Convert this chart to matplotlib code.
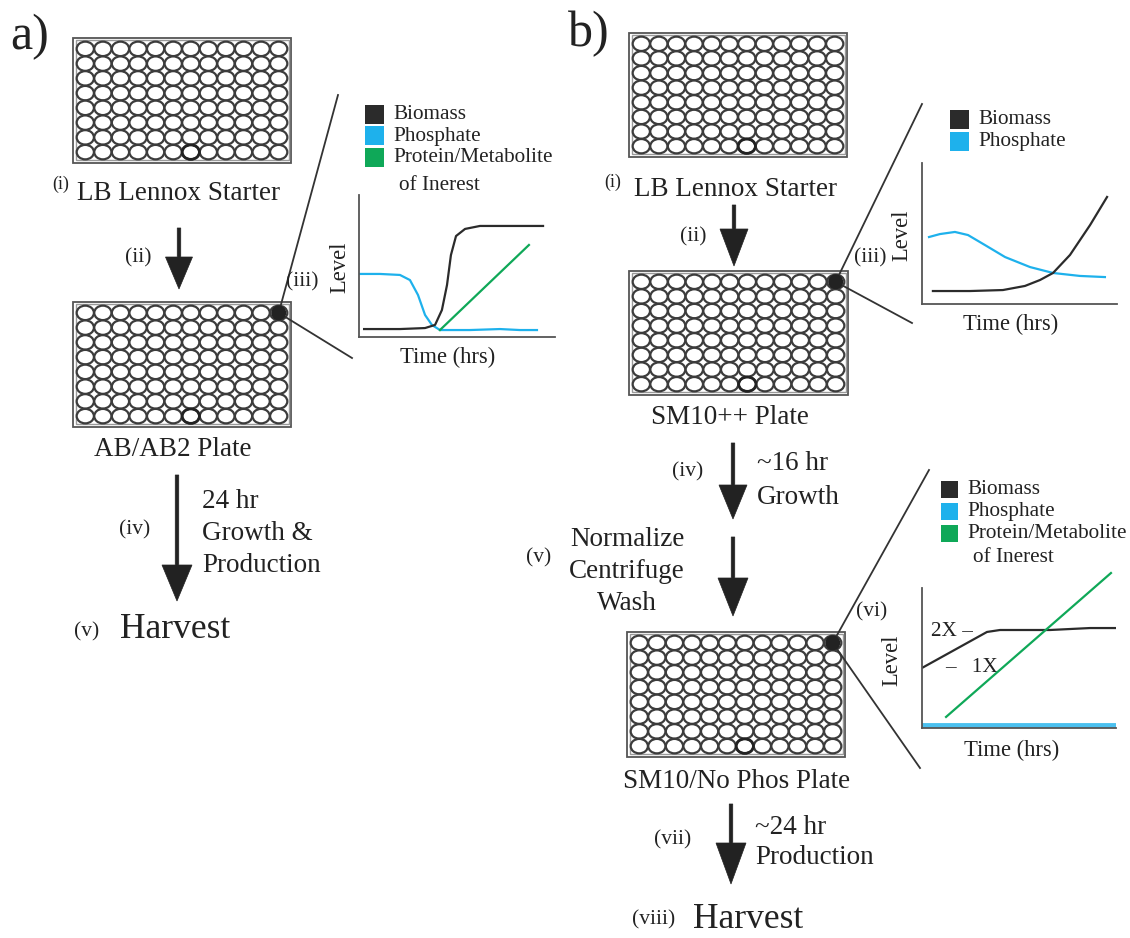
import matplotlib.pyplot as plt
from matplotlib.patches import Rectangle, Ellipse, Circle, FancyArrow
from matplotlib.collections import PatchCollection

# curve values for the three "Level vs Time" insets (time 0-100, level 0-100)
a_phosphate_t = [0, 10.7, 20.9, 26, 30.1, 33.7, 37.2, 41.3, 56.6, 71.9, 82.1, 90.8]
a_phosphate_y = [44.4, 44.4, 43.7, 40.1, 29.6, 15.5, 8.5, 4.9, 4.9, 5.6, 4.9, 4.9]
a_biomass_t = [2.6, 20.9, 33.7, 38.8, 42.3, 44.9, 46.9, 49.5, 54.1, 61.7, 77, 93.9]
a_biomass_y = [5.6, 5.6, 6.3, 8.5, 19, 36.6, 57.7, 71.1, 76.1, 78.2, 78.2, 78.2]
a_product_t = [41.3, 86.7]
a_product_y = [4.9, 64.8]

b1_phosphate_t = [3.6, 9.2, 16.9, 23.6, 32.3, 42.6, 55.4, 67.2, 81, 93.8]
b1_phosphate_y = [47.5, 49.6, 51.1, 48.9, 41.8, 33.3, 26.2, 22, 19.9, 19.1]
b1_biomass_t = [5.6, 24.6, 41.5, 52.8, 60.5, 67.2, 75.9, 86.2, 94.9]
b1_biomass_y = [9.2, 9.2, 9.9, 12.8, 17, 22, 34.8, 56, 75.9]

b2_phosphate_t = [0, 100]
b2_phosphate_y = [2.1, 2.1]
b2_biomass_t = [0, 33.5, 40.2, 66, 76.3, 86.6, 100]
b2_biomass_y = [42.9, 68.6, 70, 70, 70.7, 71.4, 71.4]
b2_product_t = [12.4, 97.4]
b2_product_y = [7.9, 110.7]

legend_full = ["Biomass", "Phosphate", "Protein/Metabolite"]
legend_short = ["Biomass", "Phosphate"]

BLACK = "#2b2b2b"
CYAN = "#1eb1ec"
GREEN = "#0fa858"
GRAY = "#3c3c3c"
SERIF = "Liberation Serif"

MAIN = 19.5   # step labels
NUM = 15.5    # roman numerals
LEG = 15.3    # inset legends
AXL = 16.3    # inset axis labels

W, H = 1130, 938
fig = plt.figure(figsize=(W / 100, H / 100), dpi=100)
ax = fig.add_axes([0, 0, 1, 1])
ax.set_xlim(0, W)
ax.set_ylim(H, 0)
ax.axis("off")


def txt(x, y, s, size=MAIN, ha="left", **kw):
    ax.text(x, y, s, fontsize=size, ha=ha, va="center", family=SERIF,
            color="#222222", **kw)


def plate(x0, y0, w, h, dot=False):
    ax.add_patch(Rectangle((x0, y0), w, h, fc="white", ec="#555555", lw=1.3))
    ax.add_patch(Rectangle((x0 + 2.5, y0 + 2.5), w - 5, h - 5, fc="none",
                           ec="#9a9a9a", lw=1.0))
    dx = (w - 7) / 12
    dy = (h - 7) / 8
    wells = []
    for r in range(8):
        for c in range(12):
            cx = x0 + 3.5 + dx * (c + 0.5)
            cy = y0 + 3.5 + dy * (r + 0.5)
            wells.append(Ellipse((cx, cy), dx * 0.98, dy * 0.98))
    ax.add_collection(PatchCollection(wells, fc="white", ec=GRAY, lw=1.6))
    # one well drawn heavier on the bottom row
    ax.add_patch(Ellipse((x0 + 3.5 + dx * 6.5, y0 + 3.5 + dy * 7.5),
                         dx * 0.98, dy * 0.98, fc="none", ec="#222222", lw=2.0))
    if dot:
        ax.add_patch(Circle((x0 + 3.5 + dx * 11.5, y0 + 3.5 + dy * 0.5), 7.5,
                            fc="#222222", ec="none", zorder=5))
        return x0 + 3.5 + dx * 11.5, y0 + 3.5 + dy * 0.5


def arrow(x, y0, y1, hl, hw):
    ax.add_patch(FancyArrow(x, y0, 0, y1 - y0, width=3.5, head_width=hw,
                            head_length=hl, length_includes_head=True,
                            fc="#222222", ec="#222222", lw=0.5))


def legend(x, y_top, labels, size, step):
    colors = [BLACK, CYAN, GREEN]
    for i, lab in enumerate(labels):
        y = y_top + i * step
        ax.add_patch(Rectangle((x, y), size, size, fc=colors[i], ec="none"))
        txt(x + size + 9, y + size / 2, lab, size=LEG)


def inset(left, top, right, bottom):
    a = fig.add_axes([left / W, 1 - bottom / H, (right - left) / W,
                      (bottom - top) / H])
    a.set_xlim(0, 100)
    a.set_ylim(0, 100)
    for s in ("top", "right"):
        a.spines[s].set_visible(False)
    for s in ("left", "bottom"):
        a.spines[s].set_color("#555555")
        a.spines[s].set_linewidth(1.3)
    a.set_xticks([])
    a.set_yticks([])
    a.patch.set_alpha(0)
    return a


# ---------------- panel a ----------------
txt(10, 37, "a)", size=36)
plate(73, 38, 218, 125)
txt(52, 184, "(i)", size=13)
txt(77, 193, "LB Lennox Starter")
arrow(179, 228, 289, 32, 27)
txt(138, 258, "(ii)", size=NUM, ha="center")
da = plate(73, 302, 218, 125, dot=True)
txt(173, 450, "AB/AB2 Plate", ha="center")
arrow(177, 475, 601, 36, 30)
txt(135, 530, "(iv)", size=NUM, ha="center")
txt(202, 502, "24 hr")
txt(202, 533, "Growth &")
txt(202, 565, "Production")
txt(87, 632, "(v)", size=NUM, ha="center")
txt(120, 630, "Harvest", size=25.5)

ax.plot([da[0], 338], [da[1], 95], color="#333333", lw=1.3)
ax.plot([da[0], 352], [da[1], 358], color="#333333", lw=1.3)
txt(302, 282, "(iii)", size=NUM, ha="center")
legend(365, 105, legend_full, 19, 21.5)
txt(399, 185, "of Inerest", size=LEG)
ia = inset(359, 195, 555, 337)
ia.plot(a_phosphate_t, a_phosphate_y, color=CYAN, lw=1.6)
ia.plot(a_biomass_t, a_biomass_y, color=BLACK, lw=1.6)
ia.plot(a_product_t, a_product_y, color=GREEN, lw=1.6)
txt(340, 267, "Level", size=AXL, ha="center", rotation=90)
txt(448, 357, "Time (hrs)", size=AXL, ha="center")

# ---------------- panel b ----------------
txt(568, 34, "b)", size=36)
plate(629, 33, 218, 124)
txt(604, 182, "(i)", size=13)
txt(634, 190, "LB Lennox Starter")
arrow(734, 205, 266, 37, 28)
txt(693, 237, "(ii)", size=NUM, ha="center")
db1 = plate(629, 271, 219, 124, dot=True)
txt(730, 417, "SM10++ Plate", ha="center")
arrow(733, 443, 519, 34, 28)
txt(688, 472, "(iv)", size=NUM, ha="center")
txt(757, 463, "~16 hr")
txt(757, 497, "Growth")
arrow(733, 537, 616, 38, 30)
txt(539, 558, "(v)", size=NUM, ha="center")
txt(627, 540, "Normalize", ha="center")
txt(627, 572, "Centrifuge", ha="center")
txt(627, 603, "Wash", ha="center")
db2 = plate(627, 632, 218, 125, dot=True)
txt(737, 782, "SM10/No Phos Plate", ha="center")
arrow(731, 804, 884, 41, 30)
txt(673, 840, "(vii)", size=NUM, ha="center")
txt(755, 827, "~24 hr")
txt(755, 858, "Production")
txt(654, 920, "(viii)", size=NUM, ha="center")
txt(693, 920, "Harvest", size=25.5)

# first growth inset
ax.plot([db1[0], 922], [db1[1], 104], color="#333333", lw=1.3)
ax.plot([db1[0], 912], [db1[1], 323], color="#333333", lw=1.3)
txt(870, 258, "(iii)", size=NUM, ha="center")
legend(950, 110, legend_short, 19, 22)
ib1 = inset(922, 163, 1117, 304)
ib1.plot(b1_phosphate_t, b1_phosphate_y, color=CYAN, lw=1.6)
ib1.plot(b1_biomass_t, b1_biomass_y, color=BLACK, lw=1.6)
txt(902, 235, "Level", size=AXL, ha="center", rotation=90)
txt(1011, 324, "Time (hrs)", size=AXL, ha="center")

# production inset
ax.plot([db2[0], 929], [db2[1], 470], color="#333333", lw=1.3)
ax.plot([db2[0], 920], [db2[1], 768], color="#333333", lw=1.3)
txt(872, 612, "(vi)", size=NUM, ha="center")
legend(941, 481, legend_full, 17, 22)
txt(973, 558, "of Inerest", size=LEG)
ib2 = inset(922, 588, 1116, 728)
ib2.plot(b2_phosphate_t, b2_phosphate_y, color=CYAN, lw=3.5, alpha=0.8)
ib2.plot(b2_biomass_t, b2_biomass_y, color=BLACK, lw=1.6)
ib2.plot(b2_product_t, b2_product_y, color=GREEN, lw=1.6, clip_on=False)
txt(892, 660, "Level", size=AXL, ha="center", rotation=90)
txt(1012, 750, "Time (hrs)", size=AXL, ha="center")
txt(973, 632, "2X \u2013", size=LEG, ha="right")
txt(945, 668, "\u2013   1X", size=LEG)

fig.savefig("out.png", dpi=100)
